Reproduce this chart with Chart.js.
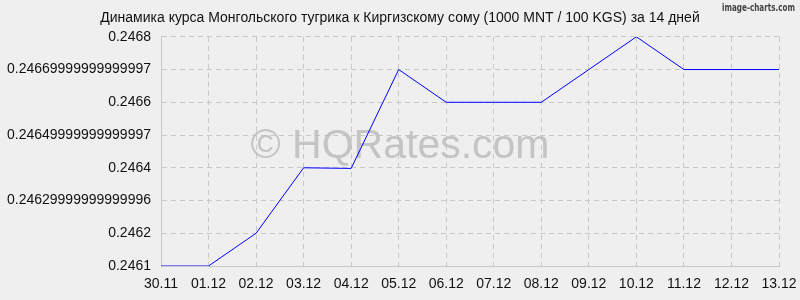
<!DOCTYPE html>
<html>
<head>
<meta charset="utf-8">
<script src="https://cdn.jsdelivr.net/npm/chart.js@4"></script>
<style>
  html, body { margin: 0; padding: 0; background: #efefef; }
  #wrap { width: 800px; height: 300px; }
</style>
</head>
<body>
<div id="wrap"><canvas id="rateChart" width="800" height="300"></canvas></div>
<script>
const dates = ['30.11', '01.12', '02.12', '03.12', '04.12', '05.12', '06.12',
               '07.12', '08.12', '09.12', '10.12', '11.12', '12.12', '13.12'];
const rates = [0.2461, 0.2461, 0.2462, 0.2464, 0.246398, 0.2467, 0.2466,
               0.2466, 0.2466, 0.2467, 0.2468, 0.2467, 0.2467, 0.2467];
const yTickLabels = ['0.2461', '0.2462', '0.24629999999999996', '0.2464',
                     '0.24649999999999997', '0.2466', '0.24669999999999997', '0.2468'];
const chartTitle = 'Динамика курса Монгольского тугрика к Киргизскому сому (1000 MNT / 100 KGS) за 14 дней';

const gridStyle = {
    color: '#c8c8c8',
    lineWidth: 1,
    drawTicks: false
};
const borderStyle = { color: '#c8c8c8', dash: [5, 4] };
const fontFamily = '"Liberation Sans", Arial, sans-serif';

const extras = {
    id: 'extras',
    beforeDraw(chart) {
        const c = chart.ctx;
        c.save();
        c.fillStyle = '#efefef';
        c.fillRect(0, 0, chart.width, chart.height);
        c.restore();
    },
    beforeDatasetsDraw(chart) {
        const c = chart.ctx;
        c.save();
        c.font = '41px ' + fontFamily;
        c.fillStyle = 'rgba(185,185,185,0.8)';
        c.textAlign = 'center';
        c.textBaseline = 'middle';
        c.fillText('© HQRates.com', 400, 147);
        c.restore();
    },
    afterDraw(chart) {
        const c = chart.ctx;
        c.save();
        c.font = 'bold 10px "DejaVu Sans Condensed", sans-serif';
        c.fillStyle = '#444';
        c.textAlign = 'right';
        c.textBaseline = 'middle';
        c.fillText('image-charts.com', 795, 8, 73);
        c.restore();
    }
};

new Chart(document.getElementById('rateChart').getContext('2d'), {
    type: 'line',
    data: {
        labels: dates,
        datasets: [{
            data: rates,
            borderColor: '#0000ff',
            borderWidth: 1,
            pointRadius: 0,
            tension: 0,
            fill: false
        }]
    },
    options: {
        responsive: false,
        animation: false,
        layout: { padding: 0 },
        plugins: {
            legend: { display: false },
            tooltip: { enabled: false },
            title: {
                display: true,
                text: chartTitle,
                color: '#111',
                font: { family: fontFamily, size: 14, weight: 'normal' },
                padding: { top: 10, bottom: 10 }
            }
        },
        scales: {
            x: {
                grid: gridStyle,
                border: borderStyle,
                afterFit(scale) {
                    scale.height = 34;
                    scale.paddingRight = 21;
                    scale.paddingLeft = 0;
                },
                ticks: {
                    color: '#111',
                    padding: 10,
                    maxRotation: 0,
                    autoSkip: false,
                    font: { family: fontFamily, size: 14 }
                }
            },
            y: {
                min: 0.2461,
                max: 0.2468,
                grid: gridStyle,
                border: borderStyle,
                afterFit(scale) { scale.width = 161; },
                ticks: {
                    stepSize: 0.0001,
                    color: '#111',
                    padding: 10,
                    font: { family: fontFamily, size: 14 },
                    callback: (v, i) => yTickLabels[i]
                }
            }
        }
    },
    plugins: [extras]
});
</script>
</body>
</html>
